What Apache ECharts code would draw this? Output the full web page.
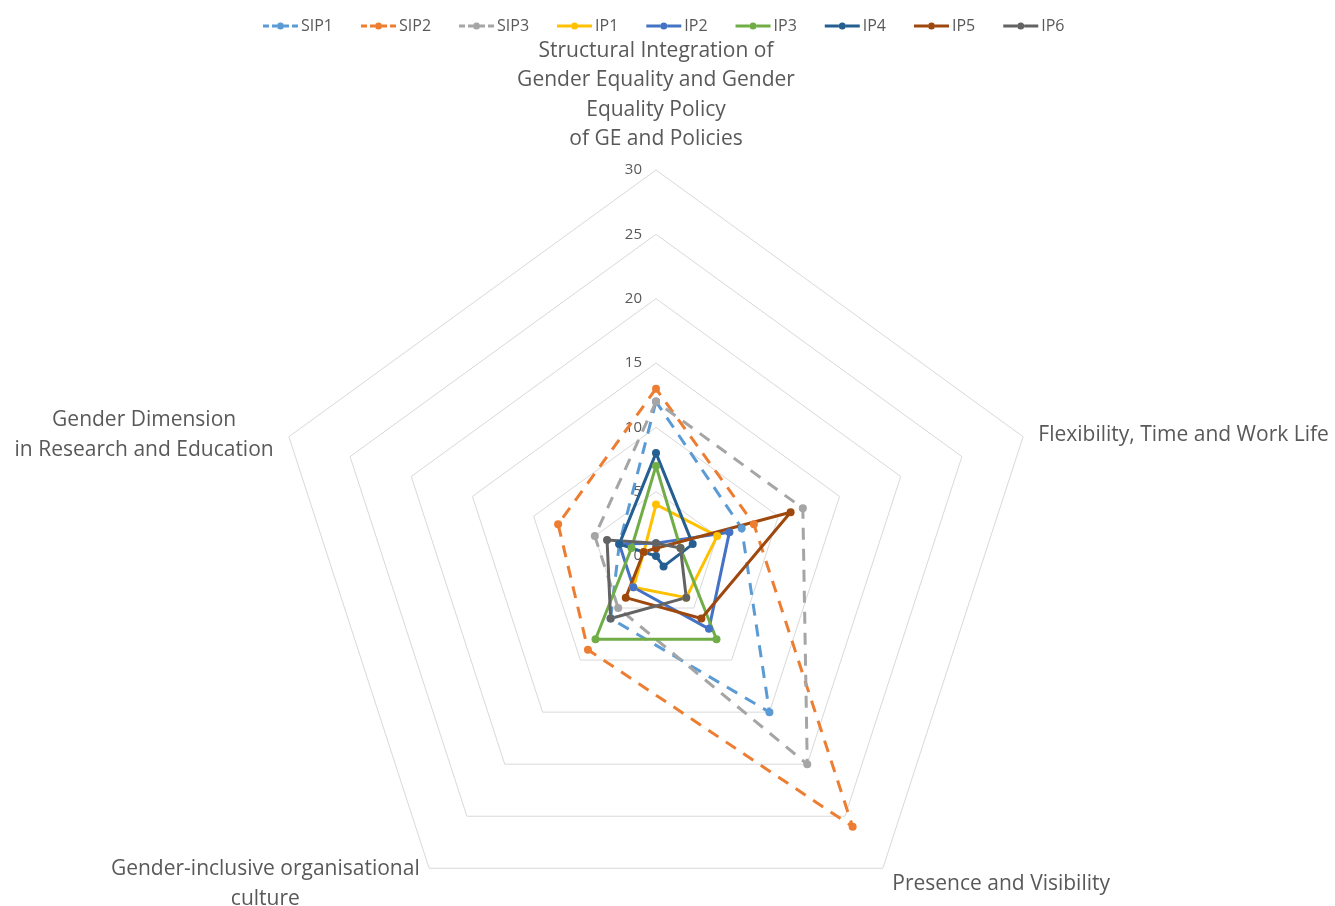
<!DOCTYPE html>
<html>
<head>
<meta charset="utf-8">
<script src="https://cdn.jsdelivr.net/npm/echarts@6/dist/echarts.min.js"></script>
<style>
html,body{margin:0;padding:0;background:#fff;}
#main{width:1335px;height:906px;}
</style>
</head>
<body>
<div id="main"></div>
<script>
// ---- data ----
const indicatorNames = [
  'Structural Integration of\nGender Equality and Gender\nEquality Policy\nof GE and Policies',
  'Flexibility, Time and Work Life',
  'Presence and Visibility',
  'Gender-inclusive organisational\nculture',
  'Gender Dimension\nin Research and Education'
];
const seriesNames = ['SIP1','SIP2','SIP3','IP1','IP2','IP3','IP4','IP5','IP6'];
const SIP1 = [12, 7, 15, 6, 3];
const SIP2 = [13, 8, 26, 9, 8];
const SIP3 = [12, 12, 20, 5, 5];
const IP1  = [4, 5, 4, 3, 1];
const IP2  = [1, 6, 7, 3, 3];
const IP3  = [7, 2, 8, 8, 2];
const IP4  = [8, 3, 1, 0, 3];
const IP5  = [0.6, 11, 6, 4, 1];
const IP6  = [1, 2, 4, 6, 4];
const axisMax = 30;
const tickStep = 5;

const values = [SIP1, SIP2, SIP3, IP1, IP2, IP3, IP4, IP5, IP6];
const colors = ['#5B9BD5','#ED7D31','#A5A5A5','#FFC000','#4472C4','#70AD47','#255E91','#9E480E','#636363'];
const dashed = [true, true, true, false, false, false, false, false, false];

// ECharts radar runs counter-clockwise; the reference runs clockwise
const order = [0, 4, 3, 2, 1];

const FONT = 'Open Sans';
const TXT = '#595959';

const solidIcon = 'path://M0,3.5h14v3h-14z M21,3.5h14v3h-14z M14,5a3.5,3.5 0 1,0 7,0a3.5,3.5 0 1,0 -7,0z';
const dashIcon = 'path://M0,3.5h6v3h-6z M9,3.5h5v3h-5z M21,3.5h5v3h-5z M29,3.5h6v3h-6z M14,5a3.5,3.5 0 1,0 7,0a3.5,3.5 0 1,0 -7,0z';

const indicators = order.map((k, i) => {
  const ind = {name: indicatorNames[k], min: 0, max: axisMax};
  if (i !== 0) ind.axisLabel = {show: false};
  return ind;
});

const chart = echarts.init(document.getElementById('main'));
chart.setOption({
  animation: false,
  backgroundColor: '#fff',
  legend: {
    top: 13,
    left: 258,
    itemWidth: 35,
    itemHeight: 10,
    itemGap: 28,
    textStyle: {fontFamily: FONT, fontSize: 16, color: TXT, padding: [0,0,0,-2]},
    data: seriesNames.map((n, i) => ({name: n, icon: dashed[i] ? dashIcon : solidIcon, itemStyle: {color: colors[i]}}))
  },
  radar: {
    center: [656, 556],
    radius: 386,
    shape: 'polygon',
    splitNumber: axisMax / tickStep,
    startAngle: 90,
    indicator: indicators,
    axisName: {
      color: TXT,
      fontFamily: FONT,
      fontSize: 21,
      padding: [6, 0, 0, 0],
      formatter: (name) => name.split('\n').map(l => '{c|' + l + '}').join('\n'),
      rich: {c: {align: 'center', color: TXT, fontFamily: FONT, fontSize: 21, lineHeight: 29.5}}
    },
    nameGap: 16,
    axisLine: {show: false},
    axisTick: {show: false},
    splitArea: {show: false},
    splitLine: {lineStyle: {color: '#D9D9D9', width: 1}},
    axisLabel: {show: true, color: TXT, fontFamily: FONT, fontSize: 15, margin: 14}
  },
  series: [{
    type: 'radar',
    symbol: 'circle',
    symbolSize: 8,
    data: seriesNames.map((n, i) => ({
      name: n,
      value: order.map(k => values[i][k]),
      itemStyle: {color: colors[i]},
      lineStyle: {color: colors[i], width: 3, type: dashed[i] ? [12, 9] : 'solid'}
    }))
  }]
});
</script>
</body>
</html>
